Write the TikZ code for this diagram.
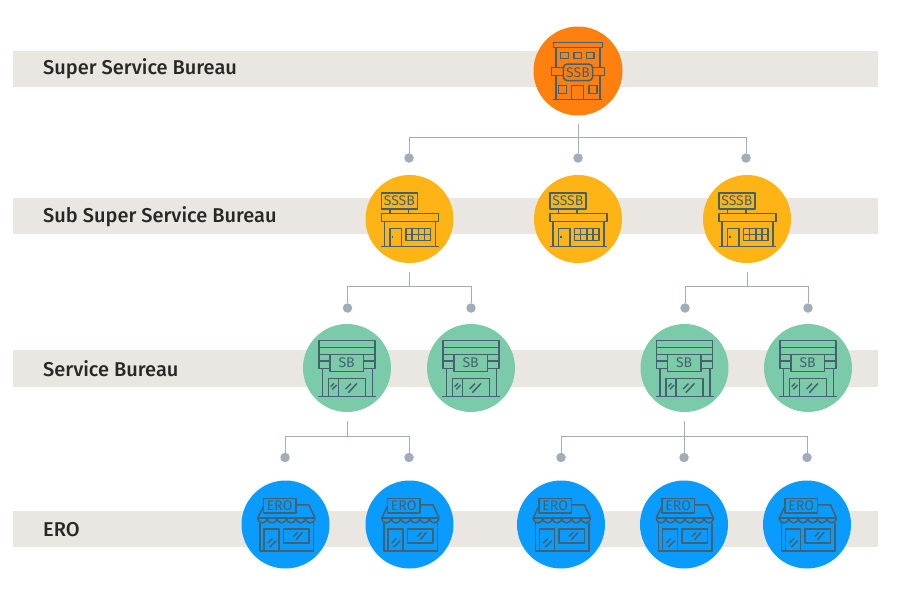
\documentclass[tikz,border=0pt]{standalone}
\usepackage{fontspec}
\setmainfont{Open Sans}
\newfontfamily\labelfont{Fira Sans Medium}
\newfontfamily\iconfont{Fira Sans}
\definecolor{bandc}{HTML}{EAE6E1}
\definecolor{linec}{HTML}{9FAEB8}
\definecolor{dotc}{HTML}{9FAEB8}
\definecolor{txt}{HTML}{2B2727}
\definecolor{ssbc}{HTML}{FF7F0F}
\definecolor{sssbc}{HTML}{FEB415}
\definecolor{sbc}{HTML}{7BCBAA}
\definecolor{eroc}{HTML}{0A9BFF}
\definecolor{ink}{HTML}{45606F}
\tikzset{
 band/.style={fill=bandc,draw=none},
 levellabel/.style={anchor=west,inner sep=0pt,text=txt,font=\labelfont\fontsize{20}{22}\selectfont},
 disc/.style={circle,minimum size=#1,inner sep=0pt,outer sep=0pt},
 ssbdisc/.style={disc=89pt,fill=ssbc},
 sssbdisc/.style={disc=88pt,fill=sssbc},
 sbdisc/.style={disc=88pt,fill=sbc},
 erodisc/.style={disc=88pt,fill=eroc},
 enddot/.style={circle,fill=dotc,minimum size=9.5pt,inner sep=0pt,outer sep=0pt},
 conn/.style={draw=linec,line width=1pt},
 ic/.style={draw=ink,line width=1.5pt,line join=round},
 icontext/.style={text=ink,inner sep=0pt,font=\iconfont\fontsize{#1}{#1}\selectfont},
 pics/ssbicon/.style={code={
  \begin{scope}[xscale=1/3,yscale=1/3,shift={(-174,-153)}]
   \draw[ic] (100,68) rectangle (247,83);
   \draw[ic] (108,83) -- (108,142) (240,83) -- (240,142) (108,166) -- (108,238) (240,166) -- (240,238);
   \draw[ic] (122,98) rectangle (145,116) (162,98) rectangle (185,116) (200,98) rectangle (222,116);
   \draw[ic] (130,142) -- (94,142) -- (94,166) -- (130,166) (218,142) -- (254,142) -- (254,166) -- (218,166);
   \draw[ic,rounded corners=4pt] (130,132) rectangle (218,182);
   \node[icontext=14] (t) at (174,157) {SSB};
   \draw[ic] (115,196) rectangle (139,220) (207,196) rectangle (231,220);
   \draw[ic] (155,238) -- (155,196) -- (191,196) -- (191,238);
   \draw[ic] (100,238) -- (247,238);
  \end{scope}}},
 pics/sssbicon/.style={code={
  \begin{scope}[xscale=1/3,yscale=1/3,shift={(-163.5,-147)}]
   \draw[ic] (79,69) rectangle (187,117);
   \node[icontext=14] (t) at (133,93) {SSSB};
   \draw[ic] (105,117) -- (105,131) (160,117) -- (160,131);
   \draw[ic] (79,131) rectangle (251,155);
   \draw[ic] (89,155) -- (89,230) (241,155) -- (241,230);
   \draw[ic] (79,230) -- (251,230);
   \draw[ic] (105,230) -- (105,175) -- (139,175) -- (139,230);
   \draw[ic] (112,198) -- (112,205);
   \draw[ic] (153,175) rectangle (227,212);
   \draw[ic] (153,193.5) -- (227,193.5) (171.5,175) -- (171.5,212) (190,175) -- (190,212) (208.5,175) -- (208.5,212);
  \end{scope}}},
 pics/sbicon/.style={code={
  \begin{scope}[xscale=1/3,yscale=1/3,shift={(-156,-144)}]
   \draw[ic] (72,62) rectangle (240,103);
   \draw[ic] (72,82) -- (240,82);
   \draw[ic] (72,103) -- (72,145) -- (105,145) (240,103) -- (240,145) -- (205,145);
   \draw[ic] (72,123) -- (105,123) (205,123) -- (240,123);
   \draw[ic] (105,103) rectangle (205,155);
   \node[icontext=14] (t) at (155,129) {SB};
   \draw[ic] (82,145) -- (82,230) (232,145) -- (232,230);
   \draw[ic] (70,230) -- (243,230);
   \draw[ic] (100,230) -- (100,175) -- (212,175) -- (212,230);
   \draw[ic] (131,175) -- (131,230);
   \draw[ic] (107,200) -- (117,190) (112,208) -- (125,195);
   \draw[ic] (152,207) -- (168,191) (160,218) -- (186,190);
  \end{scope}}},
 pics/eroicon/.style={code={
  \begin{scope}[xscale=1/3,yscale=1/3,shift={(-151.5,-149)}]
   \draw[ic] (85,71) rectangle (183,115);
   \node[icontext=14] (t) at (134,93) {ERO};
   \draw[ic] (183,90) -- (222,90) -- (240,130);
   \draw[ic] (85,95) -- (68,130);
   \draw[ic] (68,130) -- (240,130);
   \draw[ic] (68,130) arc[start angle=180,end angle=0,radius=14.33]
     arc[start angle=180,end angle=0,radius=14.33]
     arc[start angle=180,end angle=0,radius=14.33]
     arc[start angle=180,end angle=0,radius=14.33]
     arc[start angle=180,end angle=0,radius=14.33]
     arc[start angle=180,end angle=0,radius=14.33];
   \draw[ic] (75,143) -- (75,228) -- (235,228) -- (235,143);
   \draw[ic] (87,228) -- (87,162) -- (132,162) -- (132,228);
   \draw[ic] (146,162) rectangle (222,205);
   \draw[ic] (98,205) -- (112,191) (104,217) -- (124,197);
   \draw[ic] (175,185) -- (188,172) (183,195) -- (203,172);
  \end{scope}}},
}
\begin{document}
\begin{tikzpicture}[x=1pt,y=-1pt]
\useasboundingbox (0,0) rectangle (900,595);
\fill[white] (0,0) rectangle (900,595);
\fill[band] (13,51) rectangle (878,87);
\fill[band] (13,198) rectangle (878,234);
\fill[band] (13,350) rectangle (878,387);
\fill[band] (13,511) rectangle (878,547);
\node[levellabel] (l1) at (43,68.5) {Super Service Bureau};
\node[levellabel] (l2) at (43,216.5) {Sub Super Service Bureau};
\node[levellabel] (l3) at (43,368.5) {Service Bureau};
\node[levellabel] (l4) at (43,530) {ERO};
% discs
\node[ssbdisc] (ssb) at (578,71) {};
\foreach \n/\x in {a/409.5,b/578,c/747} \node[sssbdisc] (sssb\n) at (\x,219) {};
\foreach \n/\x in {a/347,b/471,c/684.5,d/808} \node[sbdisc] (sb\n) at (\x,368) {};
\foreach \n/\x in {a/285.5,b/409.5,c/561,d/684,e/807} \node[erodisc] (ero\n) at (\x,524.5) {};
% icons
\pic at (ssb.center) {ssbicon};
\foreach \n in {a,b,c} \pic at (sssb\n.center) {sssbicon};
\foreach \n in {a,b,c,d} \pic at (sb\n.center) {sbicon};
\foreach \n in {a,b,c,d,e} \pic at (ero\n.center) {eroicon};
% end dots
\foreach \n/\x in {a/409,b/578,c/746} \node[enddot] (d1\n) at (\x,158) {};
\foreach \n/\x in {a/347.5,b/471,c/685,d/808} \node[enddot] (d2\n) at (\x,308) {};
\foreach \n/\x in {a/285,b/409,c/561,d/684,e/807} \node[enddot] (d3\n) at (\x,457.5) {};
% junctions
\coordinate (j1) at (578,137);
\coordinate (s1) at (578,123.5);
\coordinate (j2a) at (409.5,286);
\coordinate (s2a) at (409.5,271.5);
\coordinate (j2b) at (747,286);
\coordinate (s2b) at (747,271.5);
\coordinate (j3a) at (347,436);
\coordinate (s3a) at (347,421);
\coordinate (j3b) at (684,436);
\coordinate (s3b) at (684,421);
% connectors
\draw[conn] (s1) -- (j1);
\draw[conn] (j1) -| (d1a);
\draw[conn] (j1) -- (d1b);
\draw[conn] (j1) -| (d1c);
\draw[conn] (s2a) -- (j2a);
\draw[conn] (j2a) -| (d2a);
\draw[conn] (j2a) -| (d2b);
\draw[conn] (s2b) -- (j2b);
\draw[conn] (j2b) -| (d2c);
\draw[conn] (j2b) -| (d2d);
\draw[conn] (s3a) -- (j3a);
\draw[conn] (j3a) -| (d3a);
\draw[conn] (j3a) -| (d3b);
\draw[conn] (s3b) -- (j3b);
\draw[conn] (j3b) -| (d3c);
\draw[conn] (j3b) -- (d3d);
\draw[conn] (j3b) -| (d3e);
\end{tikzpicture}
\end{document}
